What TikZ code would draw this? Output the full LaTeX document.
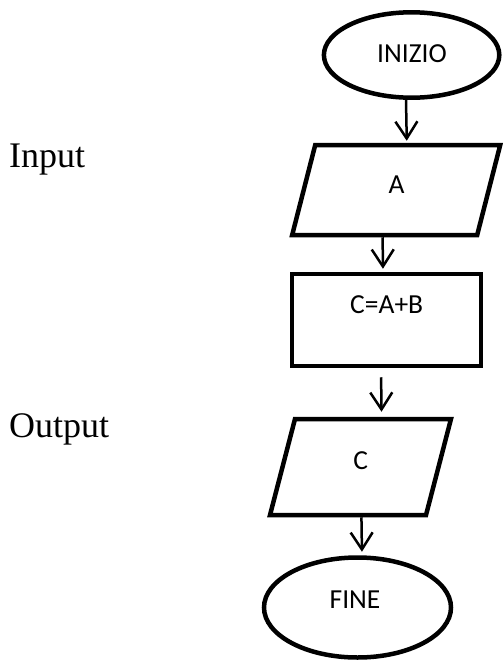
\documentclass[tikz,border=0pt]{standalone}
\usepackage{fontspec}
\setmainfont{Liberation Serif}
\newfontfamily\boxfont{Carlito}
\usetikzlibrary{shapes.geometric,arrows.meta}

\tikzset{
  shape line/.style={draw=black, line width=4.5pt, fill=white, inner sep=0pt},
  terminal/.style={shape line, ellipse},
  io/.style={shape line, rectangle, transform shape, xslant=#1},
  process/.style={shape line, rectangle},
  boxtext/.style={anchor=base, font=\boxfont\fontsize{27.5}{30}\selectfont, inner sep=0pt},
  sidetext/.style={anchor=base west, font=\fontsize{36}{40}\selectfont, inner sep=0pt},
  arr/.style={line width=2.5pt, -{Straight Barb[length=17pt,width=22pt,line width=2.5pt]}}
}

\begin{document}
\begin{tikzpicture}[x=1pt, y=-1pt]
  \useasboundingbox (0,0) rectangle (503,662);

  % flowchart shapes
  \node[terminal, minimum width=175.4pt, minimum height=85.4pt] (ini) at (411.6,55) {};
  \node[io=0.256, minimum width=185pt, minimum height=90pt] (inp) at (396.2,190) {};
  \node[process, minimum width=189pt, minimum height=92pt] (calc) at (386.5,320) {};
  \node[io=0.26, minimum width=156pt, minimum height=96pt] (outp) at (360.5,467) {};
  \node[terminal, minimum width=187pt, minimum height=100pt] (fine) at (357.5,607.5) {};

  % texts inside the shapes
  \node[boxtext] (tini) at (412,62) {INIZIO};
  \node[boxtext] (tinp) at (396.7,193.3) {A};
  \node[boxtext] (tcalc) at (386.7,313.3) {C=A+B};
  \node[boxtext] (toutp) at (360.8,469) {C};
  \node[boxtext] (tfine) at (355,608) {FINE};

  % side labels
  \node[sidetext] (lin) at (9,167) {Input};
  \node[sidetext] (lout) at (9,437) {Output};

  % connectors
  \draw[arr, shorten >=2pt] ([xshift=-5.6pt]ini.south) -- ([xshift=-1.5pt]inp.north);
  \draw[arr, shorten >=3pt] ([xshift=-1.5pt]inp.south) -- ([xshift=-3.5pt]calc.north);
  \draw[arr, shorten <=9pt, shorten >=5pt] ([xshift=-5.5pt]calc.south) -- ([xshift=8pt]outp.north);
  \draw[arr, shorten >=3.5pt] ([xshift=14pt]outp.south) -- ([xshift=4.5pt]fine.north);
\end{tikzpicture}
\end{document}
